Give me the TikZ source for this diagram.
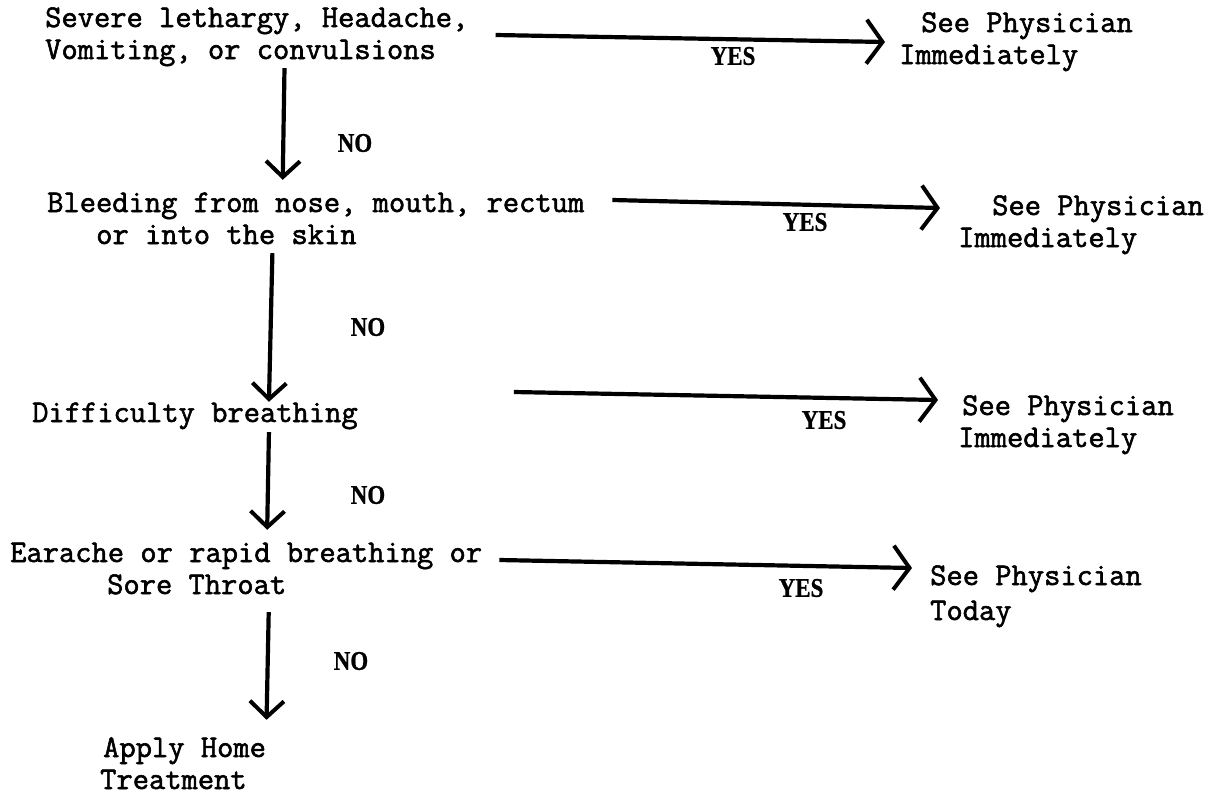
\documentclass[tikz,border=0pt]{standalone}
\usepackage{fontspec}
\setmonofont[FakeBold=1.8]{Latin Modern Mono}
\newfontfamily\lblfont[FakeStretch=0.85,FakeBold=0.8]{Liberation Serif Bold}
\usetikzlibrary{arrows.meta,calc}
\begin{document}
\begin{tikzpicture}[x=1pt,y=-1pt,
  txt/.style={font=\ttfamily\fontsize{31.6}{32}\selectfont, inner sep=0pt, text height=20pt, text depth=6pt, anchor=west},
  lbl/.style={font=\lblfont\fontsize{27}{28}\selectfont, inner sep=0pt},
  varr/.style={line width=4.2pt, -{Straight Barb[length=16pt,width=34pt,line width=4pt]}},
  harr/.style={line width=4.2pt, -{Straight Barb[length=16pt,width=44pt,line width=4pt]}}]
\useasboundingbox (0,0) rectangle (1209,796);
\clip (0,0) rectangle (1209,796);
\node[txt] (s1a) at (45,20) {Severe lethargy, Headache,};
\node[txt] (s1b) at (45,52) {Vomiting, or convulsions};
\node[txt] (p1a) at (921,25) {See Physician};
\node[txt] (p1b) at (899,57) {Immediately};
\node[txt] (s2a) at (47,205) {Bleeding from nose, mouth, rectum};
\node[txt] (s2b) at (96,237) {or into the skin};
\node[txt] (p2a) at (992,208) {See Physician};
\node[txt] (p2b) at (958,240) {Immediately};
\node[txt] (s3) at (32,415) {Difficulty breathing};
\node[txt] (p3a) at (962,408) {See Physician};
\node[txt] (p3b) at (958,440) {Immediately};
\node[txt] (s4a) at (10,555) {Earache or rapid breathing or};
\node[txt] (s4b) at (107,587) {Sore Throat};
\node[txt] (p4a) at (930,578) {See Physician};
\node[txt] (p4b) at (930,613) {Today};
\node[txt] (h1) at (103,750) {Apply Home};
\node[txt] (h2) at (100,782) {Treatment};
\node[lbl] (y1) at (733,56) {YES};
\node[lbl] (y2) at (805,222) {YES};
\node[lbl] (y3) at (824,420) {YES};
\node[lbl] (y4) at (801,588) {YES};
\node[lbl] (n1) at (355,143) {NO};
\node[lbl] (n2) at (368,327) {NO};
\node[lbl] (n3) at (368,495) {NO};
\node[lbl] (n4) at (351,661) {NO};
\draw[harr] ($(s1a.east)+(27,15)$) -- ($(p1a.west)+(-36,17)$);
\draw[harr] ($(s2a.east)+(28,-5)$) -- ($(p2a.west)+(-52,0)$);
\draw[harr] ($(s3.east)+(156,-23)$) -- ($(p3a.west)+(-24,-8)$);
\draw[harr] ($(s4a.east)+(17,5)$) -- ($(p4a.west)+(-18,-10)$);
\draw[varr] ($(s1b.south)+(44,3)$) -- ($(s2a.north)+(-33,-12)$);
\draw[varr] ($(s2b.south)+(46,3)$) -- ($(s3.north)+(74,0)$);
\draw[varr] ($(s3.south)+(74,4)$) -- ($(s4a.north)+(21,-12)$);
\draw[varr] ($(s4b.south)+(72,12)$) -- ($(h1.north)+(82,-17)$);
\end{tikzpicture}
\end{document}
